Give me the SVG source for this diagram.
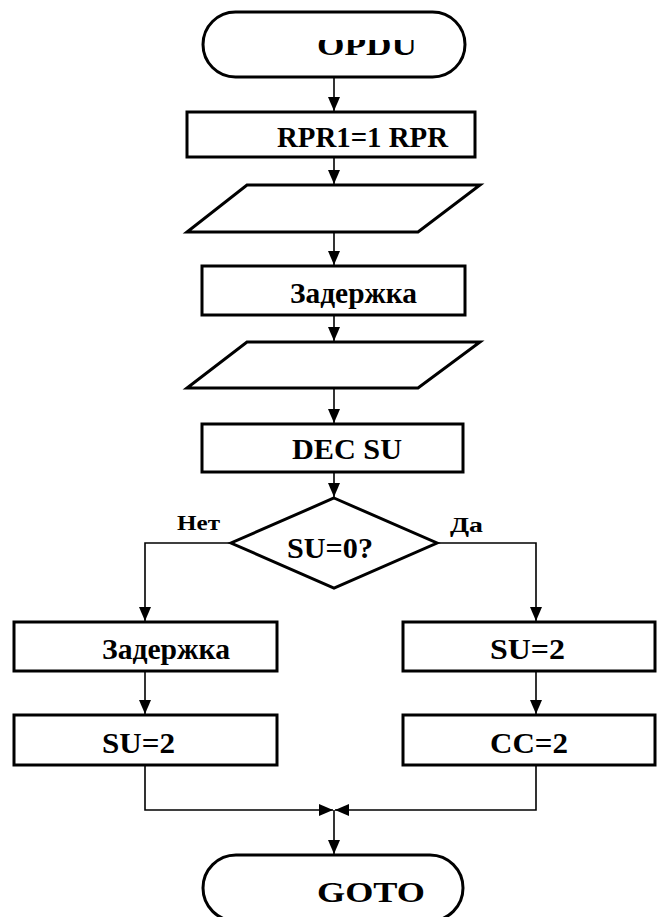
<svg xmlns="http://www.w3.org/2000/svg" width="659" height="917" viewBox="0 0 659 917">
  <style>
    .box { fill: #fff; stroke: #000; stroke-width: 3; }
    .wire { fill: none; stroke: #000; stroke-width: 1.6; }
    .lbl { font-family: "Liberation Serif", "Times New Roman", serif; font-weight: bold; font-size: 29px; fill: #000; }
    .small { font-family: "Liberation Serif", "Times New Roman", serif; font-weight: bold; font-size: 20px; fill: #000; }
  </style>
  <defs>
    <marker id="arrow" markerUnits="userSpaceOnUse" markerWidth="14" markerHeight="12" refX="14" refY="6" orient="auto">
      <path d="M0,0 L14,6 L0,12 z" fill="#000"/>
    </marker>
    <clipPath id="clipTop"><rect x="0" y="40" width="659" height="40"/></clipPath>
  </defs>

  <rect width="659" height="917" fill="#fff"/>

  <g id="connectors">
    <line class="wire" x1="334" y1="78" x2="334" y2="111" marker-end="url(#arrow)"/>
    <line class="wire" x1="334" y1="158" x2="334" y2="184" marker-end="url(#arrow)"/>
    <line class="wire" x1="334" y1="233" x2="334" y2="265" marker-end="url(#arrow)"/>
    <line class="wire" x1="334" y1="316" x2="334" y2="341" marker-end="url(#arrow)"/>
    <line class="wire" x1="334" y1="389" x2="334" y2="423" marker-end="url(#arrow)"/>
    <line class="wire" x1="334" y1="473" x2="334" y2="497" marker-end="url(#arrow)"/>
    <polyline class="wire" points="231,543 145,543 145,621" marker-end="url(#arrow)"/>
    <polyline class="wire" points="437,543 536,543 536,621" marker-end="url(#arrow)"/>
    <line class="wire" x1="145" y1="672" x2="145" y2="714" marker-end="url(#arrow)"/>
    <line class="wire" x1="536" y1="672" x2="536" y2="714" marker-end="url(#arrow)"/>
    <polyline class="wire" points="145,766 145,810 333,810" marker-end="url(#arrow)"/>
    <polyline class="wire" points="536,766 536,810 335,810" marker-end="url(#arrow)"/>
    <line class="wire" x1="334" y1="810" x2="334" y2="854" marker-end="url(#arrow)"/>
  </g>

  <g id="start">
    <rect class="box" x="203" y="12" width="262" height="65" rx="32.5"/>
    <text class="lbl" x="317" y="55" textLength="100" lengthAdjust="spacingAndGlyphs" clip-path="url(#clipTop)">OPDU</text>
  </g>

  <g id="rpr">
    <rect class="box" x="187" y="112" width="288" height="45"/>
    <text class="lbl" x="277" y="147" textLength="171" lengthAdjust="spacingAndGlyphs">RPR1=1 RPR</text>
  </g>

  <g id="io1">
    <polygon class="box" points="247,185 480,185 418,232 187,232"/>
  </g>

  <g id="delay1">
    <rect class="box" x="202" y="266" width="263" height="49"/>
    <text class="lbl" x="290" y="303" textLength="127" lengthAdjust="spacingAndGlyphs">Задержка</text>
  </g>

  <g id="io2">
    <polygon class="box" points="247,342 480,342 418,388 187,388"/>
  </g>

  <g id="dec">
    <rect class="box" x="202" y="424" width="261" height="48"/>
    <text class="lbl" x="292" y="459" textLength="110" lengthAdjust="spacingAndGlyphs">DEC SU</text>
  </g>

  <g id="check">
    <polygon class="box" points="334,498 437,543 334,588 231,543"/>
    <text class="lbl" x="287" y="558" textLength="86" lengthAdjust="spacingAndGlyphs">SU=0?</text>
    <text class="small" x="177" y="530" textLength="43" lengthAdjust="spacingAndGlyphs">Нет</text>
    <text class="small" x="450" y="532" textLength="33" lengthAdjust="spacingAndGlyphs">Да</text>
  </g>

  <g id="delay2">
    <rect class="box" x="14" y="622" width="263" height="49"/>
    <text class="lbl" x="102" y="659" textLength="128" lengthAdjust="spacingAndGlyphs">Задержка</text>
  </g>

  <g id="su2left">
    <rect class="box" x="14" y="715" width="263" height="50"/>
    <text class="lbl" x="102" y="753" textLength="73" lengthAdjust="spacingAndGlyphs">SU=2</text>
  </g>

  <g id="su2right">
    <rect class="box" x="403" y="622" width="252" height="49"/>
    <text class="lbl" x="490" y="659" textLength="75" lengthAdjust="spacingAndGlyphs">SU=2</text>
  </g>

  <g id="cc2">
    <rect class="box" x="403" y="715" width="252" height="50"/>
    <text class="lbl" x="490" y="753" textLength="78" lengthAdjust="spacingAndGlyphs">CC=2</text>
  </g>

  <g id="end">
    <rect class="box" x="203" y="855" width="260" height="66" rx="33"/>
    <text class="lbl" x="317" y="902" textLength="108" lengthAdjust="spacingAndGlyphs">GOTO</text>
  </g>
</svg>
